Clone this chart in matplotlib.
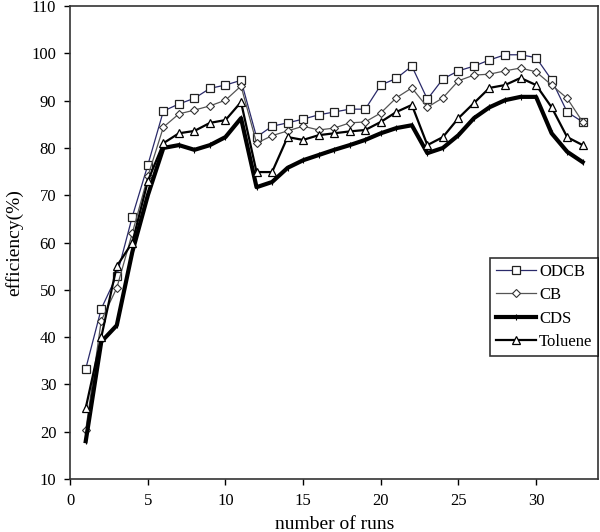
import numpy as np
from matplotlib import pyplot as plt

plt.rcParams['font.family'] = ['Liberation Serif', 'DejaVu Serif']

runs = list(range(1, 34))
odcb = [33.3, 46, 53, 65.5, 76.4, 87.8, 89.3, 90.5, 92.6, 93.3, 94.3,
        82.3, 84.6, 85.3, 86.1, 87, 87.6, 88.2, 88.2, 93.3, 94.7, 97.3,
        90.3, 94.6, 96.3, 97.3, 98.6, 99.7, 99.7, 99.1, 94.4, 87.6, 85.5]
cb = [20.3, 43.5, 50.4, 62, 74, 84.4, 87.2, 88, 88.9, 90.1, 93.1,
      81, 82.6, 83.6, 84.6, 83.8, 84.2, 85.3, 85.5, 87.4, 90.6, 92.7,
      88.6, 90.6, 94.2, 95.4, 95.6, 96.3, 96.9, 96.1, 93.3, 90.5, 85.5]
cds = [18, 39, 42.5, 58, 70, 80, 80.6, 79.6, 80.6, 82.3, 86.3,
       71.7, 72.8, 75.8, 77.4, 78.5, 79.6, 80.6, 81.7, 83.1, 84.2, 84.8,
       78.9, 80, 82.7, 86.3, 88.6, 90.1, 90.8, 90.8, 83.1, 79.2, 77]
toluene = [25, 40, 55, 60, 73, 81, 83.1, 83.6, 85.3, 85.9, 89.7,
           74.9, 74.9, 82.3, 81.7, 82.7, 83.1, 83.5, 83.8, 85.5, 87.6, 89.1,
           80.6, 82.3, 86.3, 89.5, 92.7, 93.3, 94.8, 93.3, 88.6, 82.3, 80.6]

fig = plt.figure(figsize=(6, 5.32), dpi=100)
ax = fig.add_axes([0.117, 0.0996, 0.88, 0.889])

ax.plot(runs, odcb, color='#2a2a6a', lw=0.9, marker='s', ms=6,
        mfc='white', mec='#222222', mew=0.9, label='ODCB')
ax.plot(runs, cb, color='#555555', lw=0.9, marker='D', ms=4.5,
        mfc='white', mec='#333333', mew=0.8, label='CB')
ax.plot(runs, cds, color='black', lw=3, marker='|', ms=5,
        mec='black', mew=0.8, label='CDS')
ax.plot(runs, toluene, color='black', lw=1.6, marker='^', ms=5.5,
        mfc='white', mec='black', mew=0.9, label='Toluene')

ax.set_xlim(0, 34)
ax.set_ylim(10, 110)
ax.set_xticks([0, 5, 10, 15, 20, 25, 30])
ax.set_yticks(np.arange(10, 111, 10))
ax.tick_params(direction='out', length=4, width=1, labelsize=12, pad=6)
for s in ax.spines.values():
    s.set_linewidth(1.2)
    s.set_color('#333333')

ax.set_xlabel('number of runs', fontsize=14, labelpad=5)
ax.set_ylabel('efficiency(%)', fontsize=14, labelpad=6)

leg = ax.legend(loc='upper right', bbox_to_anchor=(1.0, 0.468),
                borderaxespad=0, fancybox=False, fontsize=12,
                handlelength=2.4, handletextpad=0.2, labelspacing=0.45,
                borderpad=0.35)
leg.get_frame().set_edgecolor('black')
leg.get_frame().set_linewidth(1.2)

fig.savefig('out.png', dpi=100)
